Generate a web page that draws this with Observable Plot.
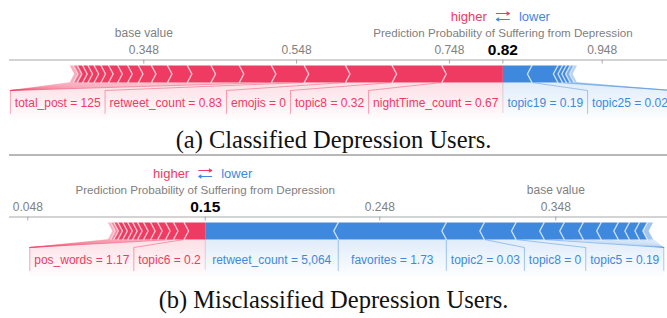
<!DOCTYPE html>
<html><head><meta charset="utf-8">
<script src="https://cdn.jsdelivr.net/npm/d3@7"></script>
<script src="https://cdn.jsdelivr.net/npm/@observablehq/plot@0.6"></script>
<style>
html,body{margin:0;padding:0;background:#fff;}
#root{width:667px;height:318px;position:relative;overflow:hidden;}
.panel{position:absolute;left:0;width:667px;}
.panel svg{overflow:hidden;}
.caption{position:absolute;left:0;width:667px;height:28px;line-height:28px;text-align:center;font-family:"Liberation Serif","Times New Roman",serif;font-size:24.5px;color:#111;}
.sep{position:absolute;left:9px;right:0;height:2px;background:#b8b8b8;}
</style></head><body><div id="root"></div>
<script>
// ---------- data (a) Classified Depression Users ----------
const baseA = 0.348;
const ticksA = [0.348, 0.548, 0.748, 0.948];
const redLabelsA = ["nightTime_count = 0.67", "topic8 = 0.32", "emojis = 0", "retweet_count = 0.83", "total_post = 125"];
const redEffectsA = [0.080, 0.065, 0.061, 0.054, 0.043, 0.042, 0.037, 0.031, 0.026, 0.021, 0.017, 0.014, 0.013, 0.012, 0.010, 0.009, 0.008, 0.007, 0.007, 0.005, 0.005];
const blueLabelsA = ["topic19 = 0.19", "topic25 = 0.02"];
const blueEffectsA = [0.038, 0.034, 0.006, 0.005, 0.005, 0.005, 0.004];
const captionA = "(a) Classified Depression Users.";

// ---------- data (b) Misclassified Depression Users ----------
const baseB = 0.348;
const ticksB = [0.048, 0.248, 0.348];
const redLabelsB = ["topic6 = 0.2", "pos_words = 1.17"];
const redEffectsB = [0.012, 0.006, 0.0045, 0.0045, 0.004, 0.004, 0.0034, 0.0028, 0.0028, 0.0028, 0.0028, 0.0023, 0.0017, 0.0017];
const blueLabelsB = ["retweet_count = 5,064", "favorites = 1.73", "topic2 = 0.03", "topic8 = 0", "topic5 = 0.19"];
const blueEffectsB = [0.0756, 0.0614, 0.0216, 0.018, 0.016, 0.0114, 0.0108, 0.0102, 0.0097, 0.0063, 0.0057, 0.0045, 0.0033];
const captionB = "(b) Misclassified Depression Users.";

const titleText = "Prediction Probability of Suffering from Depression";
const baseText = "base value";

// ---------- layout / style ----------
const W = 667, H = 120;
const ROW = {higher: 16, title: 33, tick: 50, axis: 59.5, tickEnd: 63.5, barTop: 65, barBot: 82, labelTop: 90, label: 102.5, labelBot: 113, fadeBot: 122};
const RED = [239, 58, 98], BLUE = [62, 137, 222];
const rgba = (c, a) => `rgba(${c[0]},${c[1]},${c[2]},${a})`;
const FONT = "Liberation Sans, Arial, sans-serif";
const ctx = document.createElement("canvas").getContext("2d");
function measure(t, f) { ctx.font = f; return ctx.measureText(t).width; }

function forcePlot(cfg, id) {
  const {base, domain, ticks, redEffects, redLabels, blueEffects, blueLabels} = cfg;
  const k = W / (domain[1] - domain[0]);
  const px = n => n / k;
  const out = base + d3.sum(redEffects) - d3.sum(blueEffects);
  const tip = px(4.5);
  const ym = (ROW.barTop + ROW.barBot) / 2;

  function build(effects, labels, dirOut, color) {
    const segs = [];
    let inner = out;
    effects.forEach((e, i) => {
      const outer = inner + dirOut * e;
      segs.push({i, inner, outer, label: labels[i] || null});
      inner = outer;
    });
    const barEnd = inner;
    const polys = [], seps = [], conns = [], texts = [], fans = [];
    segs.forEach((s, j) => {
      const mid = (s.inner + s.outer) / 2;
      const dist = Math.abs(mid - barEnd) * k;
      const a = Math.min(1, 0.25 + dist / 12);
      const fill = rgba(color, a);
      const tIn = j === 0 ? 0 : tip * (-dirOut);
      const tOut = tip * (-dirOut);
      [[s.outer, ROW.barTop], [s.inner, ROW.barTop], [s.inner + tIn, ym], [s.inner, ROW.barBot], [s.outer, ROW.barBot], [s.outer + tOut, ym]]
        .forEach(([x, y]) => polys.push({id: j, x, y, fill}));
      if (j < segs.length - 1) {
        [[s.outer, ROW.barTop], [s.outer + tOut, ym], [s.outer, ROW.barBot]]
          .forEach(([x, y]) => seps.push({id: j, x, y, stroke: `rgba(255,255,255,${(0.65 * a).toFixed(3)})`}));
      }
    });
    let edge = out;
    segs.forEach(s => {
      if (!s.label) return;
      const tw = px(measure(s.label, `12px ${FONT}`) + 9);
      let lin, lout;
      if (dirOut < 0) { lin = Math.min(edge, s.inner); lout = Math.min(lin - tw, s.outer); }
      else { lin = Math.max(edge, s.inner); lout = Math.max(lin + tw, s.outer); }
      texts.push({x: (lin + lout) / 2, text: s.label});
      conns.push({id: s.i, x: s.outer, y: ROW.barBot}, {id: s.i, x: lout, y: ROW.labelTop}, {id: s.i, x: lout, y: ROW.labelBot});
      edge = lout;
    });
    segs.forEach(s => {
      if (s.label) return;
      fans.push({id: s.i, x: s.outer, y: ROW.barBot}, {id: s.i, x: edge, y: ROW.labelTop});
    });
    const bg = [{x: out, y: ROW.barBot}, {x: barEnd, y: ROW.barBot}, {x: edge, y: ROW.labelTop}, {x: edge, y: ROW.fadeBot}, {x: out, y: ROW.fadeBot}];
    return {polys, seps, conns, texts, fans, bg};
  }

  const R = build(redEffects, redLabels, -1, RED);
  const B = build(blueEffects, blueLabels, +1, BLUE);

  const defs = () => {
    const ns = "http://www.w3.org/2000/svg";
    const d = document.createElementNS(ns, "defs");
    d.innerHTML = `
      <linearGradient id="${id}-r" x1="0" y1="0" x2="0" y2="1">
        <stop offset="0" stop-color="${rgba(RED,1)}" stop-opacity="0.16"/>
        <stop offset="1" stop-color="${rgba(RED,1)}" stop-opacity="0"/>
      </linearGradient>
      <linearGradient id="${id}-b" x1="0" y1="0" x2="0" y2="1">
        <stop offset="0" stop-color="${rgba(BLUE,1)}" stop-opacity="0.16"/>
        <stop offset="1" stop-color="${rgba(BLUE,1)}" stop-opacity="0"/>
      </linearGradient>`;
    return d;
  };

  const gray = "#808080";
  return Plot.plot({
    width: W, height: H, margin: 0,
    x: {domain, range: [0, W], axis: null},
    y: {domain: [0, H], range: [0, H], axis: null},
    color: {type: "identity"},
    style: {fontFamily: FONT, fontSize: "12px", background: "white"},
    marks: [
      defs,
      Plot.line(R.bg, {x: "x", y: "y", fill: `url(#${id}-r)`, stroke: "none", curve: "linear"}),
      Plot.line(B.bg, {x: "x", y: "y", fill: `url(#${id}-b)`, stroke: "none", curve: "linear"}),
      Plot.line(R.fans, {x: "x", y: "y", z: "id", stroke: rgba(RED, 0.22), strokeWidth: 0.7}),
      Plot.line(B.fans, {x: "x", y: "y", z: "id", stroke: rgba(BLUE, 0.22), strokeWidth: 0.7}),
      Plot.line(R.conns, {x: "x", y: "y", z: "id", stroke: rgba(RED, 0.45), strokeWidth: 1}),
      Plot.line(B.conns, {x: "x", y: "y", z: "id", stroke: rgba(BLUE, 0.45), strokeWidth: 1}),
      Plot.ruleX([out], {x: d => d, y1: ROW.barBot, y2: ROW.labelBot, stroke: "rgba(0,0,0,0.13)", strokeWidth: 1}),
      Plot.line(R.polys, {x: "x", y: "y", z: "id", fill: "fill", stroke: "none"}),
      Plot.line(B.polys, {x: "x", y: "y", z: "id", fill: "fill", stroke: "none"}),
      Plot.line(R.seps, {x: "x", y: "y", z: "id", stroke: "stroke", strokeWidth: 1.5}),
      Plot.line(B.seps, {x: "x", y: "y", z: "id", stroke: "stroke", strokeWidth: 1.5}),
      Plot.ruleY([ROW.axis], {y: d => d, x1: () => domain[0] + px(9), x2: () => domain[1], stroke: "#a8a8a8", strokeWidth: 1}),
      Plot.ruleX([...ticks, out], {x: d => d, y1: ROW.axis, y2: ROW.tickEnd, stroke: "#a8a8a8", strokeWidth: 1}),
      Plot.text(ticks, {x: d => d, y: () => ROW.tick, text: d => d.toFixed(3), fill: gray, fontSize: 12}),
      Plot.text([out], {x: d => d, y: () => ROW.tick, text: d => d.toFixed(2), fill: "#000", fontSize: 15.5, fontWeight: "bold"}),
      Plot.text([base], {x: d => d, y: () => ROW.title, text: () => baseText, fill: gray, fontSize: 12}),
      Plot.text([out], {x: d => d, y: () => ROW.title, text: () => titleText, fill: gray, fontSize: 11.6}),
      Plot.text([out], {x: d => d, y: () => ROW.higher, text: () => "higher", dx: -16, textAnchor: "end", fill: rgba(RED, 1), fontSize: 13}),
      Plot.text([out], {x: d => d, y: () => ROW.higher, text: () => "lower", dx: 16, textAnchor: "start", fill: rgba(BLUE, 1), fontSize: 13}),
      Plot.arrow([out], {x1: d => d - px(6.5), x2: d => d + px(6.5), y1: () => ROW.higher - 3, y2: () => ROW.higher - 3, stroke: rgba(RED, 1), strokeWidth: 1.1, headLength: 4, bend: 0}),
      Plot.arrow([out], {x1: d => d + px(6.5), x2: d => d - px(6.5), y1: () => ROW.higher + 3, y2: () => ROW.higher + 3, stroke: rgba(BLUE, 1), strokeWidth: 1.1, headLength: 4, bend: 0}),
      Plot.text(R.texts, {x: "x", y: () => ROW.label, text: "text", fill: rgba(RED, 1), fontSize: 12}),
      Plot.text(B.texts, {x: "x", y: () => ROW.label, text: "text", fill: rgba(BLUE, 1), fontSize: 12})
    ]
  });
}

const root = document.getElementById("root");
function place(el, top, cls) {
  const d = document.createElement("div");
  d.className = cls; d.style.top = top + "px";
  if (typeof el === "string") d.textContent = el; else if (el) d.appendChild(el);
  root.appendChild(d);
  return d;
}
const chartA = forcePlot({base: baseA, domain: [0.16043, 1.03347], ticks: ticksA,
  redEffects: redEffectsA, redLabels: redLabelsA, blueEffects: blueEffectsA, blueLabels: blueLabelsA}, "fa");
const chartB = forcePlot({base: baseB, domain: [0.03249, 0.41147], ticks: ticksB,
  redEffects: redEffectsB, redLabels: redLabelsB, blueEffects: blueEffectsB, blueLabels: blueLabelsB}, "fb");
place(chartA, 0, "panel");
place(captionA, 126, "caption");
place(null, 154, "sep");
place(chartB, 157, "panel");
place(captionB, 286, "caption");
</script></body></html>
